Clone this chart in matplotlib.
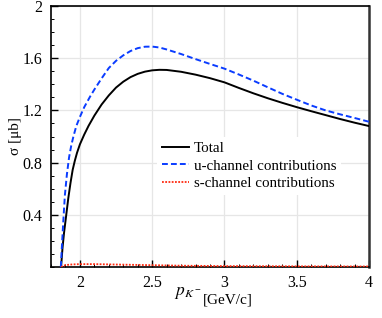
import matplotlib
matplotlib.use("Agg")
import matplotlib.pyplot as plt
from matplotlib.ticker import MultipleLocator, FixedLocator

plt.rcParams['font.family'] = ['Liberation Serif', 'DejaVu Serif']
plt.rcParams['mathtext.fontset'] = 'stix'

# Total cross section
p_total = [1.870, 1.875, 1.880, 1.890, 1.900, 1.910, 1.920, 1.935, 1.950, 1.965,
           1.980, 2.000, 2.030, 2.060, 2.100, 2.150, 2.200, 2.250, 2.300, 2.350,
           2.400, 2.450, 2.500, 2.550, 2.600, 2.700, 2.800, 2.900, 3.000, 3.100,
           3.200, 3.300, 3.400, 3.500, 3.600, 3.700, 3.800, 3.900, 4.000]
sigma_total = [0.000, 0.080, 0.150, 0.260, 0.350, 0.440, 0.530, 0.645, 0.745, 0.815,
               0.875, 0.940, 1.015, 1.082, 1.160, 1.245, 1.315, 1.375, 1.420, 1.455,
               1.480, 1.497, 1.507, 1.511, 1.510, 1.496, 1.474, 1.447, 1.415, 1.372,
               1.331, 1.293, 1.258, 1.225, 1.194, 1.164, 1.134, 1.106, 1.080]

# u-channel contributions
p_u = [1.868, 1.875, 1.885, 1.896, 1.910, 1.925, 1.940, 1.955, 1.975, 2.000,
       2.030, 2.070, 2.100, 2.150, 2.200, 2.250, 2.300, 2.350, 2.400, 2.450,
       2.500, 2.550, 2.600, 2.700, 2.800, 2.900, 3.000, 3.100, 3.200, 3.300,
       3.400, 3.500, 3.600, 3.700, 3.800, 3.900, 4.000]
sigma_u = [0.000, 0.150, 0.350, 0.550, 0.710, 0.840, 0.930, 1.000, 1.080, 1.150,
           1.225, 1.305, 1.360, 1.445, 1.525, 1.580, 1.622, 1.655, 1.677, 1.688,
           1.689, 1.682, 1.667, 1.632, 1.593, 1.556, 1.520, 1.475, 1.428, 1.377,
           1.327, 1.282, 1.238, 1.200, 1.170, 1.142, 1.113]

# s-channel contributions
p_s = [1.870, 1.900, 1.950, 2.000, 2.100, 2.200, 2.300, 2.500, 2.700, 3.000, 3.500, 4.000]
sigma_s = [0.000, 0.015, 0.020, 0.022, 0.022, 0.020, 0.018, 0.014, 0.010, 0.007, 0.005, 0.004]

labels = ["Total", "u-channel contributions", "s-channel contributions"]
yticks = [0.4, 0.8, 1.2, 1.6, 2.0]
yticklabels = ["0.4", "0.8", "1.2", "1.6", "2"]
xticks = [2.0, 2.5, 3.0, 3.5, 4.0]
xticklabels = ["2", "2.5", "3", "3.5", "4"]

fig = plt.figure(figsize=(3.82, 3.18), dpi=100)
ax = fig.add_axes([51/382, 51/318, 318/382, 261/318])

ax.plot(p_total, sigma_total, color='black', lw=1.4, label=labels[0], zorder=3)
ax.plot(p_u, sigma_u, color='#0a3cff', lw=1.4, ls=(0, (3, 1.6)), label=labels[1], zorder=3)
ax.plot(p_s, sigma_s, color='#ff2a10', lw=1.3, ls=(0, (1, 0.8)), label=labels[2], zorder=3)

ax.set_xlim(1.8, 4.0)
ax.set_ylim(0, 2.0)
ax.yaxis.set_major_locator(FixedLocator(yticks))
ax.set_yticklabels(yticklabels)
ax.xaxis.set_major_locator(FixedLocator(xticks))
ax.set_xticklabels(xticklabels)
ax.xaxis.set_minor_locator(MultipleLocator(0.1))
ax.yaxis.set_minor_locator(MultipleLocator(0.1))
ax.tick_params(which='both', direction='in', labelsize=11.5, colors='black', pad=6)
ax.tick_params(which='major', length=5, width=1.0)
ax.tick_params(which='minor', length=2.5, width=0.7)
ax.grid(True, which='major', color='#e6e6e6', lw=0.9, zorder=0)

for s in ['left', 'bottom', 'top']:
    ax.spines[s].set_linewidth(1.2)
    ax.spines[s].set_color('black')
ax.spines['right'].set_linewidth(1.8)
ax.spines['right'].set_color('#333333')

ax.set_ylabel("σ [μb]", fontsize=11)
ax.yaxis.set_label_coords(-0.09, 0.5)

fig.text(174/382, (318-295)/318, "$p_{K^-}$", fontsize=12.5, va='baseline', ha='left')
fig.text(203/382, (318-303)/318, "[GeV/c]", fontsize=11, va='baseline', ha='left')

leg = ax.legend(loc='upper left', bbox_to_anchor=(0.333, 0.5), borderaxespad=0,
                fontsize=10.8, frameon=True, fancybox=False, handlelength=1.8,
                handletextpad=0.3, labelspacing=0.25, borderpad=0.35)
leg.get_frame().set_facecolor('white')
leg.get_frame().set_edgecolor('none')
leg.get_frame().set_alpha(1.0)

fig.savefig("out.png", dpi=100)
